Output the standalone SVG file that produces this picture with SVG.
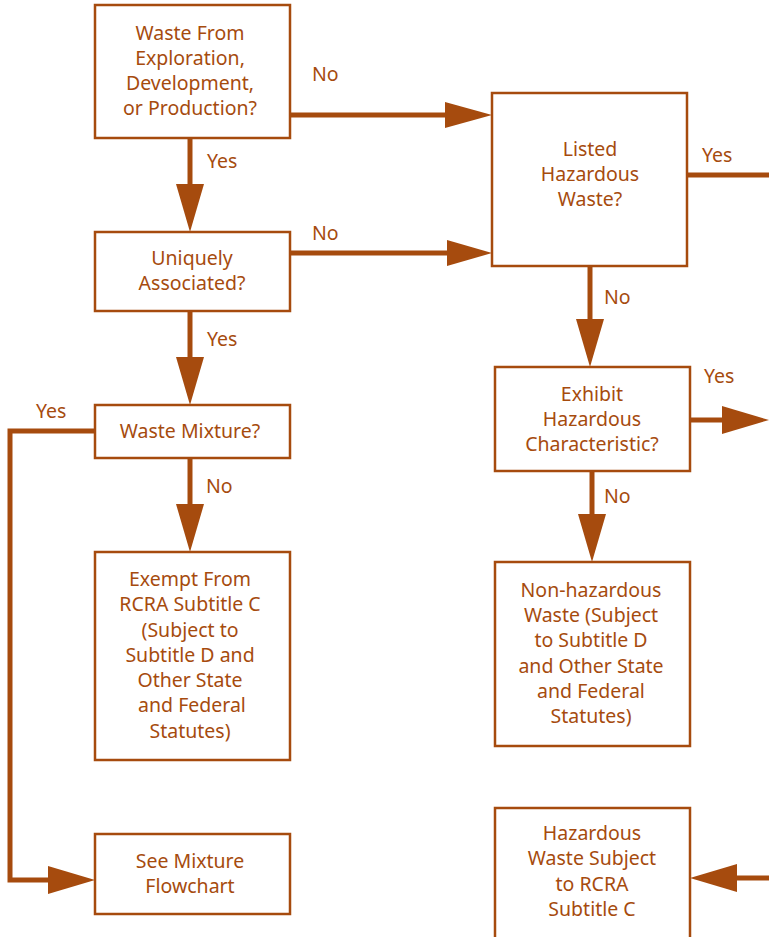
<svg xmlns="http://www.w3.org/2000/svg" width="769" height="937" viewBox="0 0 769 937">
<defs>
<style>
.box{fill:#fff;stroke:#A64B0E;stroke-width:2.5}
.t{font-family:"Noto Sans","Open Sans",sans-serif;font-size:19.5px;fill:#A64B0E;text-anchor:middle}
.l{font-family:"Noto Sans","Open Sans",sans-serif;font-size:19.5px;fill:#A64B0E}
.c{fill:none;stroke:#A64B0E;stroke-width:5}
.a{fill:#A64B0E}
</style>
</defs>
<rect width="769" height="937" fill="#fff"/>
<g id="connectors">
<path class="c" d="M290 115H450"/><polygon class="a" points="445,102 492,115 445,128"/>
<path class="c" d="M290 253H450"/><polygon class="a" points="447,240 492,253 447,266"/>
<path class="c" d="M190 138V190"/><polygon class="a" points="176,184 190,232 204,184"/>
<path class="c" d="M190 311V360"/><polygon class="a" points="176,357 190,405 204,357"/>
<path class="c" d="M190 458V510"/><polygon class="a" points="176,504 190,552 204,504"/>
<path class="c" d="M95 431H10V880H55"/><polygon class="a" points="48,866 95,880 48,894"/>
<path class="c" d="M687 175H769"/>
<path class="c" d="M590 266V320"/><polygon class="a" points="576,319 590,367 604,319"/>
<path class="c" d="M690 420H730"/><polygon class="a" points="722,406 769,420 722,434"/>
<path class="c" d="M592 471V520"/><polygon class="a" points="578,514 592,562 606,514"/>
<path class="c" d="M769 878H730"/><polygon class="a" points="737,864 690,878 737,892"/>
</g>
<g id="labels">
<text class="l" x="312" y="81">No</text>
<text class="l" x="207" y="168">Yes</text>
<text class="l" x="312" y="240">No</text>
<text class="l" x="207" y="346">Yes</text>
<text class="l" x="36" y="418">Yes</text>
<text class="l" x="206" y="493">No</text>
<text class="l" x="702" y="162">Yes</text>
<text class="l" x="604" y="304">No</text>
<text class="l" x="704" y="383">Yes</text>
<text class="l" x="604" y="503">No</text>
</g>
<g id="n1"><rect class="box" x="95" y="5" width="195" height="133"/>
<text class="t" x="190" y="40">Waste From</text><text class="t" x="190" y="65">Exploration,</text><text class="t" x="190" y="90">Development,</text><text class="t" x="190" y="115">or Production?</text></g>
<g id="n2"><rect class="box" x="95" y="232" width="195" height="79"/>
<text class="t" x="192" y="265">Uniquely</text><text class="t" x="192" y="290">Associated?</text></g>
<g id="n3"><rect class="box" x="95" y="405" width="195" height="53"/>
<text class="t" x="190" y="438">Waste Mixture?</text></g>
<g id="n4"><rect class="box" x="95" y="552" width="195" height="208"/>
<text class="t" x="190" y="586">Exempt From</text><text class="t" x="190" y="611">RCRA Subtitle C</text><text class="t" x="190" y="637">(Subject to</text><text class="t" x="190" y="662">Subtitle D and</text><text class="t" x="190" y="687">Other State</text><text class="t" x="192" y="712">and Federal</text><text class="t" x="190" y="738">Statutes)</text></g>
<g id="n5"><rect class="box" x="95" y="834" width="195" height="80"/>
<text class="t" x="190" y="868">See Mixture</text><text class="t" x="190" y="893">Flowchart</text></g>
<g id="n6"><rect class="box" x="492" y="93" width="195" height="173"/>
<text class="t" x="590" y="156">Listed</text><text class="t" x="590" y="181">Hazardous</text><text class="t" x="590" y="206">Waste?</text></g>
<g id="n7"><rect class="box" x="495" y="367" width="195" height="104"/>
<text class="t" x="592" y="401">Exhibit</text><text class="t" x="592" y="426">Hazardous</text><text class="t" x="592" y="451">Characteristic?</text></g>
<g id="n8"><rect class="box" x="495" y="562" width="195" height="184"/>
<text class="t" x="591" y="597">Non-hazardous</text><text class="t" x="591" y="622">Waste (Subject</text><text class="t" x="591" y="647">to Subtitle D</text><text class="t" x="591" y="673">and Other State</text><text class="t" x="591" y="698">and Federal</text><text class="t" x="591" y="723">Statutes)</text></g>
<g id="n9"><rect class="box" x="495" y="808" width="195" height="140"/>
<text class="t" x="592" y="840">Hazardous</text><text class="t" x="592" y="865">Waste Subject</text><text class="t" x="592" y="891">to RCRA</text><text class="t" x="592" y="916">Subtitle C</text></g>
</svg>
